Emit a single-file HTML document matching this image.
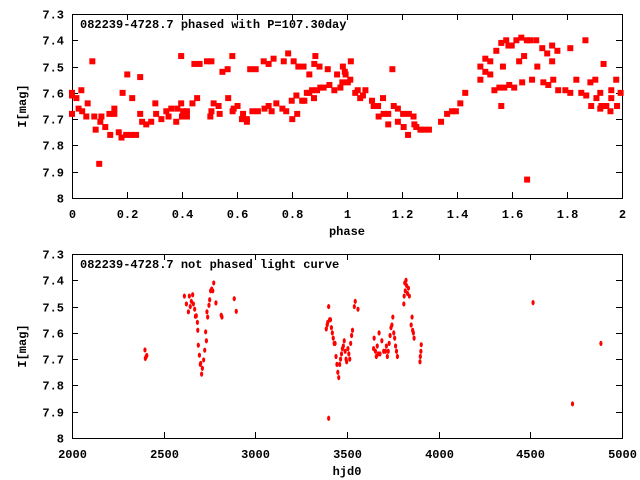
<!DOCTYPE html>
<html><head><meta charset="utf-8"><style>
html,body{margin:0;padding:0;background:#fff}
svg{display:block}
text{font-family:"Liberation Mono","DejaVu Sans Mono",monospace;font-weight:bold;font-size:12px;fill:#000}
</style></head><body>
<svg id="chart" width="640" height="480" viewBox="0 0 640 480">
<g id="top"></g>
<g id="bot"></g>
</svg>
<script>
const phaseVals=[0.0,0.0,0.016,0.0,0.034,0.024,0.037,0.052,0.057,0.074,0.081,0.086,0.099,0.107,0.103,0.121,0.139,0.136,0.154,0.154,0.17,0.18,0.184,0.197,0.201,0.215,0.219,0.233,0.248,0.248,0.255,0.27,0.288,0.303,0.306,0.325,0.343,0.351,0.361,0.379,0.383,0.397,0.397,0.4,0.404,0.418,0.418,0.438,0.445,0.455,0.464,0.491,0.507,0.503,0.507,0.515,0.533,0.537,0.547,0.566,0.568,0.583,0.584,0.588,0.602,0.618,0.622,0.636,0.636,0.648,0.656,0.668,0.676,0.697,0.7,0.715,0.715,0.726,0.733,0.743,0.765,0.77,0.779,0.786,0.799,0.801,0.806,0.816,0.819,0.823,0.837,0.842,0.845,0.854,0.863,0.863,0.873,0.88,0.881,0.885,0.891,0.9,0.903,0.915,0.93,0.936,0.954,0.964,0.976,0.983,0.985,0.992,0.995,1.003,1.012,1.014,1.03,
1.039,1.048,1.058,1.067,1.091,1.097,1.113,1.115,1.131,1.133,1.15,1.15,1.165,1.17,1.185,1.185,1.204,1.206,1.222,1.225,1.242,1.245,1.252,1.267,1.281,1.298,1.342,1.364,1.382,1.396,1.412,1.43,1.485,1.485,1.503,1.503,1.521,1.521,1.536,1.543,1.554,1.561,1.561,1.567,1.572,1.579,1.587,1.59,1.599,1.608,1.616,1.626,1.634,1.637,1.644,1.654,1.655,1.666,1.673,1.688,1.692,1.71,1.714,1.728,1.732,1.746,1.746,1.75,1.765,1.768,1.794,1.812,1.812,1.834,1.852,1.867,1.87,1.885,1.888,1.903,1.907,1.921,1.921,1.925,1.933,1.943,1.958,1.961,1.961,1.979,1.982,1.995];
const phaseMags=[7.6,7.61,7.62,7.68,7.59,7.66,7.67,7.69,7.64,7.48,7.69,7.74,7.87,7.69,7.71,7.73,7.76,7.68,7.66,7.68,7.75,7.77,7.6,7.76,7.53,7.76,7.62,7.76,7.54,7.68,7.71,7.72,7.71,7.64,7.68,7.7,7.67,7.69,7.66,7.71,7.66,7.46,7.64,7.69,7.67,7.67,7.69,7.64,7.49,7.62,7.49,7.48,7.48,7.69,7.67,7.64,7.65,7.68,7.52,7.51,7.62,7.46,7.67,7.66,7.65,7.7,7.68,7.71,7.7,7.51,7.67,7.51,7.67,7.48,7.66,7.49,7.65,7.67,7.47,7.64,7.66,7.48,7.67,7.45,7.63,7.7,7.48,7.61,7.68,7.5,7.63,7.5,7.63,7.6,7.53,7.6,7.59,7.62,7.49,7.46,7.59,7.5,7.58,7.58,7.51,7.57,7.59,7.53,7.58,7.56,7.5,7.52,7.53,7.56,7.55,7.48,7.6,
7.59,7.62,7.61,7.59,7.63,7.65,7.65,7.69,7.62,7.68,7.68,7.72,7.51,7.65,7.66,7.71,7.68,7.73,7.76,7.68,7.69,7.72,7.73,7.74,7.74,7.74,7.71,7.68,7.67,7.67,7.64,7.6,7.5,7.55,7.47,7.52,7.48,7.53,7.59,7.44,7.58,7.41,7.65,7.5,7.58,7.4,7.42,7.57,7.42,7.58,7.4,7.48,7.39,7.56,7.46,7.4,7.93,7.4,7.55,7.4,7.5,7.43,7.56,7.45,7.57,7.42,7.48,7.55,7.44,7.59,7.59,7.43,7.6,7.55,7.6,7.4,7.61,7.56,7.65,7.55,7.62,7.6,7.66,7.65,7.49,7.65,7.67,7.59,7.62,7.55,7.65,7.6];
const hjdVals=[2398,2400,2405,2408,2613,2624,2635,2640,2645,2651,2658,2662,2669,2673,2678,2684,2686,2689,2695,2700,2702,2707,2711,2718,2724,2729,2733,2736,2740,2747,2751,2756,2762,2768,2773,2785,2814,2818,2885,2896,
3387,3392,3395,3400,3400,3405,3410,3415,3420,3425,3430,3435,3440,3445,3450,3455,3460,3465,3470,3475,3480,3485,3490,3495,3498,3505,3510,3515,3520,3525,3530,3540,3545,3560,
3645,3648,3655,3660,3665,3670,3675,3680,3690,3700,3710,3715,3720,3725,3730,3735,3740,3745,3750,3755,3760,3765,3770,3775,3810,3812,3815,3818,3822,3825,3830,3835,3840,3850,3855,3858,3862,3866,3898,3900,3903,3905,4515,4730,4885];
const hjdMags=[7.665,7.697,7.69,7.686,7.46,7.49,7.52,7.46,7.5,7.48,7.455,7.49,7.51,7.537,7.535,7.56,7.59,7.647,7.685,7.72,7.716,7.757,7.735,7.703,7.666,7.596,7.63,7.52,7.54,7.495,7.474,7.44,7.433,7.44,7.41,7.486,7.533,7.54,7.47,7.518,
7.585,7.57,7.56,7.5,7.925,7.55,7.55,7.58,7.6,7.62,7.64,7.64,7.69,7.72,7.75,7.77,7.72,7.7,7.68,7.66,7.65,7.63,7.67,7.7,7.71,7.66,7.68,7.7,7.64,7.61,7.59,7.5,7.48,7.51,
7.66,7.62,7.67,7.69,7.65,7.68,7.6,7.68,7.63,7.67,7.67,7.65,7.69,7.67,7.64,7.61,7.58,7.57,7.54,7.6,7.62,7.65,7.67,7.69,7.49,7.46,7.41,7.44,7.4,7.42,7.45,7.43,7.46,7.57,7.54,7.59,7.6,7.62,7.71,7.69,7.67,7.645,7.485,7.87,7.64];
const magTicks=["7.3","7.4","7.5","7.6","7.7","7.8","7.9","8"];
const phaseTicks=["0","0.2","0.4","0.6","0.8","1","1.2","1.4","1.6","1.8","2"];
const hjdTicks=["2000","2500","3000","3500","4000","4500","5000"];

const NS="http://www.w3.org/2000/svg";
const L=72,R=622;
function mk(parent,tag,attrs){const e=document.createElementNS(NS,tag);for(const k in attrs)e.setAttribute(k,attrs[k]);parent.appendChild(e);return e;}
function panel(g,top,bottom,xmin,xmax,xTicks,xlabel,title,xs,ys,marker){
  const sx=v=>L+(v-xmin)/(xmax-xmin)*(R-L);
  const sy=v=>top+(v-7.3)/0.7*(bottom-top);
  const frame=mk(g,'rect',{x:L+0.5,y:top+0.5,width:R-L,height:bottom-top,fill:'none',stroke:'#000','stroke-width':1});
  
  
  magTicks.forEach(t=>{const y=Math.round(sy(parseFloat(t)))+0.5;
    mk(g,'line',{x1:L,x2:L+6,y1:y,y2:y,stroke:'#000'});mk(g,'line',{x1:R-6,x2:R,y1:y,y2:y,stroke:'#000'});
    const tx=mk(g,'text',{x:L-8,y:y+4,'text-anchor':'end'});tx.textContent=t;
    
    });
  xTicks.forEach(t=>{const x=Math.round(sx(parseFloat(t)))+0.5;
    mk(g,'line',{x1:x,x2:x,y1:bottom-6,y2:bottom,stroke:'#000'});mk(g,'line',{x1:x,x2:x,y1:top,y2:top+6,stroke:'#000'});
    const tx=mk(g,'text',{x:x,y:bottom+20,'text-anchor':'middle'});tx.textContent=t;
    
    });
  const xl=mk(g,'text',{x:(L+R)/2,y:bottom+37,'text-anchor':'middle'});xl.textContent=xlabel;
  
  
  const cy=(top+bottom)/2;
  const yl=mk(g,'text',{x:26,y:cy,'text-anchor':'middle',transform:`rotate(-90 26 ${cy})`});yl.textContent='I[mag]';
  
  
  const tt=mk(g,'text',{x:80,y:top+14});tt.textContent=title;
  
  
  xs.forEach((v,i)=>{const x=sx(v),y=sy(ys[i]);let m;
    if(marker==='sq'){m=mk(g,'rect',{x:x-3,y:y-3,width:6,height:6,fill:'#f00'});}
    else{m=mk(g,'ellipse',{cx:x,cy:y,rx:1.6,ry:2.6,fill:'#f00'});}
    
    });
}
panel(document.getElementById('top'),14,198,0,2,phaseTicks,'phase','082239-4728.7 phased with P=107.30day',phaseVals,phaseMags,'sq');
panel(document.getElementById('bot'),254,438,2000,5000,hjdTicks,'hjd0','082239-4728.7 not phased light curve',hjdVals,hjdMags,'el');
</script>
</body></html>
